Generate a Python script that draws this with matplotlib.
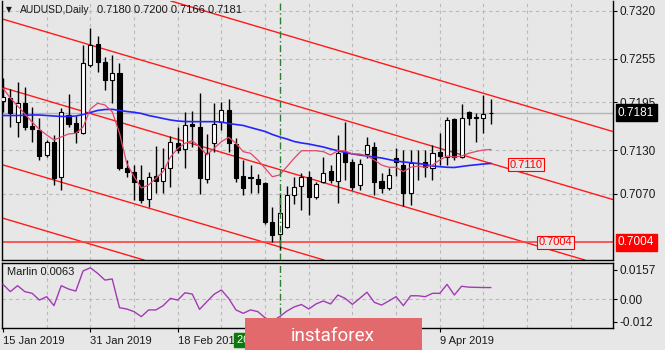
import matplotlib
matplotlib.use("Agg")
import matplotlib.pyplot as plt
import matplotlib.transforms as mtransforms
from matplotlib.patches import Rectangle

plt.rcParams['font.family'] = ['Liberation Sans', 'DejaVu Sans']

# ---------------- data ----------------
symbol = "AUDUSD,Daily"

opens = [0.7197, 0.7201, 0.7168, 0.7194, 0.7163, 0.7157, 0.7123, 0.7141, 0.7093, 0.7178,
         0.7167, 0.7153, 0.7246, 0.7275, 0.7250, 0.7226, 0.7235, 0.7106, 0.7100, 0.7089,
         0.7063, 0.7095, 0.7088, 0.7106, 0.7140, 0.7131, 0.7166, 0.7162, 0.7090, 0.7140,
         0.7168, 0.7185, 0.7138, 0.7095, 0.7093, 0.7090, 0.7085, 0.7032, 0.7015, 0.7025,
         0.7069, 0.7081, 0.7093, 0.7066, 0.7086, 0.7101, 0.7088, 0.7127, 0.7114, 0.7082,
         0.7125, 0.7134, 0.7088, 0.7078, 0.7119, 0.7110, 0.7071, 0.7112, 0.7114, 0.7106,
         0.7127, 0.7121, 0.7172, 0.7121, 0.7182, 0.7175, 0.7174, 0.7180]
highs = [0.7229, 0.7213, 0.7223, 0.7216, 0.7189, 0.7174, 0.7144, 0.7151, 0.7187, 0.7207,
         0.7177, 0.7274, 0.7297, 0.7286, 0.7257, 0.7260, 0.7249, 0.7116, 0.7110, 0.7110,
         0.7100, 0.7136, 0.7133, 0.7149, 0.7162, 0.7182, 0.7183, 0.7208, 0.7152, 0.7194,
         0.7196, 0.7200, 0.7147, 0.7116, 0.7110, 0.7097, 0.7086, 0.7052, 0.7071, 0.7081,
         0.7093, 0.7099, 0.7101, 0.7086, 0.7120, 0.7110, 0.7151, 0.7168, 0.7118, 0.7118,
         0.7148, 0.7141, 0.7099, 0.7106, 0.7133, 0.7130, 0.7130, 0.7130, 0.7130, 0.7137,
         0.7153, 0.7175, 0.7174, 0.7193, 0.7183, 0.7181, 0.7205, 0.7200]
lows = [0.7182, 0.7162, 0.7148, 0.7157, 0.7141, 0.7116, 0.7120, 0.7082, 0.7075, 0.7162,
        0.7140, 0.7152, 0.7243, 0.7237, 0.7212, 0.7194, 0.7103, 0.7093, 0.7062, 0.7058,
        0.7052, 0.7071, 0.7071, 0.7080, 0.7126, 0.7106, 0.7134, 0.7070, 0.7085, 0.7127,
        0.7157, 0.7127, 0.7086, 0.7069, 0.7071, 0.7071, 0.7029, 0.7004, 0.6994, 0.7024,
        0.7056, 0.7048, 0.7041, 0.7063, 0.7085, 0.7085, 0.7058, 0.7089, 0.7075, 0.7075,
        0.7119, 0.7069, 0.7071, 0.7075, 0.7095, 0.7054, 0.7055, 0.7089, 0.7093, 0.7089,
        0.7110, 0.7110, 0.7116, 0.7119, 0.7164, 0.7141, 0.7153, 0.7166]
closes = [0.7203, 0.7181, 0.7194, 0.7162, 0.7159, 0.7122, 0.7141, 0.7092, 0.7182, 0.7166,
          0.7155, 0.7249, 0.7274, 0.7250, 0.7226, 0.7235, 0.7106, 0.7100, 0.7086, 0.7062,
          0.7093, 0.7088, 0.7106, 0.7141, 0.7130, 0.7164, 0.7163, 0.7092, 0.7126, 0.7166,
          0.7185, 0.7140, 0.7092, 0.7078, 0.7092, 0.7084, 0.7032, 0.7014, 0.7044, 0.7069,
          0.7080, 0.7093, 0.7066, 0.7084, 0.7099, 0.7089, 0.7126, 0.7114, 0.7080, 0.7111,
          0.7137, 0.7086, 0.7078, 0.7096, 0.7114, 0.7071, 0.7112, 0.7113, 0.7107, 0.7126,
          0.7122, 0.7171, 0.7121, 0.7174, 0.7174, 0.7174, 0.7179, 0.7181]

# slow moving average (blue)
ma_slow = [0.71772, 0.71772, 0.71772, 0.71775, 0.71779, 0.71779, 0.71772, 0.71765, 0.71759, 0.71759,
           0.71765, 0.71786, 0.71813, 0.71841, 0.71854, 0.71857, 0.71841, 0.71827, 0.71816, 0.71800,
           0.71772, 0.71752, 0.71731, 0.71711, 0.71697, 0.71690, 0.71688, 0.71688, 0.71688, 0.71688,
           0.71683, 0.71663, 0.71649, 0.71636, 0.71608, 0.71581, 0.71554, 0.71513, 0.71479, 0.71451,
           0.71417, 0.71397, 0.71383, 0.71362, 0.71342, 0.71315, 0.71291, 0.71267, 0.71246, 0.71233,
           0.71219, 0.71205, 0.71192, 0.71171, 0.71151, 0.71137, 0.71128, 0.71117, 0.71103, 0.71082,
           0.71073, 0.71065, 0.71062, 0.71076, 0.71089, 0.71099, 0.71110, 0.71117]
# fast moving average (pink)
ma_fast = [0.72144, 0.72011, 0.71902, 0.71793, 0.71683, 0.71581, 0.71506, 0.71438, 0.71479, 0.71520,
           0.71529, 0.71615, 0.71861, 0.71939, 0.71916, 0.71824, 0.71533, 0.71117, 0.70936, 0.70782,
           0.70823, 0.70914, 0.71005, 0.71205, 0.71324, 0.71393, 0.71428, 0.71346, 0.71233, 0.71324,
           0.71414, 0.71474, 0.71393, 0.71278, 0.71256, 0.71164, 0.71051, 0.70936, 0.70960, 0.71073,
           0.71188, 0.71291, 0.71291, 0.71291, 0.71278, 0.71233, 0.71291, 0.71291, 0.71246, 0.71246,
           0.71219, 0.71164, 0.71096, 0.71065, 0.71065, 0.71005, 0.71065, 0.71082, 0.71065, 0.71096,
           0.71164, 0.71219, 0.71205, 0.71219, 0.71256, 0.71281, 0.71301, 0.71308]

marlin = [0.0080, 0.0041, 0.0073, 0.0041, 0.0032, -0.0004, 0.0014, -0.0034, 0.0073, 0.0055,
          0.0044, 0.0152, 0.0169, 0.0139, 0.0103, 0.0109, -0.0045, -0.0052, -0.0066, -0.0093,
          -0.0057, -0.0057, -0.0034, 0.0005, -0.0004, 0.0035, 0.0028, -0.0054, -0.0013, 0.0027,
          0.0050, 0.0005, -0.0057, -0.0075, -0.0057, -0.0066, -0.0099, -0.0116, -0.0093, -0.0063,
          -0.0041, -0.0028, -0.0052, -0.0025, -0.0009, -0.0025, 0.0023, 0.0005, -0.0027, 0.0005,
          0.0038, -0.0016, -0.0031, -0.0009, 0.0014, -0.0034, 0.0019, 0.0019, 0.0014, 0.0032,
          0.0032, 0.0080, 0.0023, 0.0070, 0.0065, 0.0064, 0.0063, 0.0063]

# parallel channel lines: price at bar 0 and at bar 84
channel_start = [0.74013, 0.73088, 0.72153, 0.71097, 0.70369]
channel_end = [0.71547, 0.70618, 0.69678, 0.68623, 0.67894]
level_price = 0.7004
channel_label = 0.7110

price_ticks = [0.7320, 0.7255, 0.7195, 0.7130, 0.7070]
marlin_ticks = [0.0157, 0.0, -0.012]
marlin_tick_labels = ["0.0157", "0.00", "-0.012"]
date_ticks = [0, 12, 24, 60]
date_labels = ["15 Jan 2019", "31 Jan 2019", "18 Feb 2019", "9 Apr 2019"]
grid_bars = list(range(6, 84, 6))
marker_bar = 38
marker_label = "2019.03.08 00:00"

# ---------------- style ----------------
BG = '#e7e7e7'
GRID = '#b9b9b9'
TXT = '#1a1a1a'
RED = '#ff1a1a'
W, H = 665, 350


def fx(px):
    return px / W


def fy(py):
    return 1 - py / H


fig = plt.figure(figsize=(W / 100, H / 100), dpi=100, facecolor=BG)
ax = fig.add_axes([fx(2), fy(260), fx(613) - fx(2), fy(1) - fy(260)], facecolor=BG)
axm = fig.add_axes([fx(2), fy(327.7), fx(613) - fx(2), fy(263.3) - fy(327.7)], facecolor=BG)

XLIM = (-0.14, 83.8)
n = len(closes)

# ---------------- price panel ----------------
ax.set_xlim(*XLIM)
ax.set_ylim(0.697984, 0.73336)

for b in grid_bars:
    ax.axvline(b, color=GRID, lw=0.8, ls=(0, (3, 3)), zorder=0.5)
for p in price_ticks:
    ax.axhline(p, color=GRID, lw=0.8, ls=(0, (3, 3)), zorder=0.5)

# bid line
ax.axhline(closes[-1], color='#b4b4b4', lw=1.0, zorder=0.8)

# channel
for p0, p1 in zip(channel_start, channel_end):
    ax.axline((0, p0), (84, p1), color=RED, lw=1.0, zorder=2)
ax.axhline(level_price, color='#ff4040', lw=1.2, zorder=2)

# moving averages
xs = list(range(n))
ax.plot(xs, ma_slow, color='#2424ff', lw=1.2, zorder=5)
ax.plot(xs, ma_fast, color='#e2466c', lw=0.9, zorder=5)

# candles
for i, (o, h, l, c) in enumerate(zip(opens, highs, lows, closes)):
    ax.vlines(i, l, h, color='black', lw=1.0, zorder=3)
    face = 'white' if c >= o else 'black'
    ax.add_patch(Rectangle((i - 0.28, min(o, c)), 0.56, abs(c - o),
                           facecolor=face, edgecolor='black', lw=0.8, zorder=4))

ax.axvline(marker_bar, color='#2e7d32', lw=1.0, ls=(0, (5, 2, 1, 2)), zorder=6)

# line labels
ax.text(69.6, channel_label, f"{channel_label:.4f}", color='#ff0000', fontsize=8,
        ha='left', va='center', zorder=7,
        bbox=dict(boxstyle='square,pad=0.15', fc=BG, ec='#ff0000', lw=0.8))
ax.text(73.6, level_price, f"{level_price:.4f}", color='#ff0000', fontsize=8,
        ha='left', va='center', zorder=7,
        bbox=dict(boxstyle='square,pad=0.15', fc=BG, ec='#ff0000', lw=0.8))

ax.yaxis.tick_right()
ax.set_yticks(price_ticks)
ax.set_yticklabels([f"{p:.4f}" for p in price_ticks])
ax.tick_params(axis='y', length=3, width=0.8, pad=2, labelsize=8.5, colors='black', labelcolor=TXT)
ax.tick_params(axis='x', bottom=False, labelbottom=False)
for s in ['left', 'right', 'bottom']:
    ax.spines[s].set_color('black')
    ax.spines[s].set_linewidth(1.0)
ax.spines['top'].set_visible(False)

blend = mtransforms.blended_transform_factory(ax.transAxes, ax.transData)
ax.text(1 + 5 / 611, closes[-1], f"{closes[-1]:.4f}", transform=blend, color='white',
        fontsize=8.5, ha='left', va='center', zorder=8, clip_on=False,
        bbox=dict(boxstyle='square,pad=0.2', fc='black', ec='black'))
ax.text(1 + 5 / 611, level_price, f"{level_price:.4f}", transform=blend, color='white',
        fontsize=8.5, ha='left', va='center', zorder=8, clip_on=False,
        bbox=dict(boxstyle='square,pad=0.2', fc='#ff0000', ec='#ff0000'))

# header: symbol, then O H L C of the last bar
fig.text(fx(6), fy(10), '\u25bc', fontsize=5.5, family='DejaVu Sans', color=TXT, va='center')
sym_txt = fig.text(fx(20), fy(10), symbol, fontsize=7.5, color=TXT, va='center')
renderer = fig.canvas.get_renderer()
sym_right = sym_txt.get_window_extent(renderer=renderer).x1
fig.text((sym_right + 7) / W, fy(10),
         f"{opens[-1]:.4f} {highs[-1]:.4f} {lows[-1]:.4f} {closes[-1]:.4f}",
         fontsize=8, color=TXT, va='center')

# ---------------- Marlin panel ----------------
axm.set_xlim(*XLIM)
axm.set_ylim(-0.01522, 0.01929)
for b in grid_bars:
    axm.axvline(b, color=GRID, lw=0.8, ls=(0, (3, 3)), zorder=0.5)
axm.axhline(0, color=GRID, lw=0.8, ls=(0, (3, 3)), zorder=0.5)
axm.plot(xs, marlin, color='#a33ab5', lw=1.0, zorder=3)
axm.axvline(marker_bar, color='#2e7d32', lw=1.0, ls=(0, (5, 2, 1, 2)), zorder=4)
axm.text(0.008, 0.86, f"Marlin {marlin[-1]:.4f}", transform=axm.transAxes,
         fontsize=8, color=TXT, va='center', ha='left')

axm.yaxis.tick_right()
axm.set_yticks(marlin_ticks)
axm.set_yticklabels(marlin_tick_labels)
axm.tick_params(axis='y', length=3, width=0.8, pad=2, labelsize=8.5, colors='black', labelcolor=TXT)
axm.set_xticks(date_ticks)
axm.set_xticklabels(date_labels)
axm.tick_params(axis='x', length=3, width=0.8, pad=3, labelsize=8, colors='black', labelcolor=TXT)
for lbl in axm.get_xticklabels():
    lbl.set_horizontalalignment('left')
for s in axm.spines.values():
    s.set_color('black')
    s.set_linewidth(1.0)

# date box for the marker line
fig.text(fx(3 + 7.28 * marker_bar), fy(340), marker_label, fontsize=8, color='white',
         ha='center', va='center', zorder=5,
         bbox=dict(boxstyle='square,pad=0.2', fc='#0b7a0b', ec='#0b7a0b'))

# brand banner
fig.add_artist(Rectangle((fx(245), fy(350)), fx(422) - fx(245), fy(318) - fy(350),
                         transform=fig.transFigure, fc='#e36a6c', ec='none', zorder=10))
fig.text(fx(333), fy(341), 'instaforex', color='white', fontsize=13.5, family='Roboto',
         ha='center', va='baseline', zorder=11)

fig.savefig('out.png', dpi=100, facecolor=BG)
